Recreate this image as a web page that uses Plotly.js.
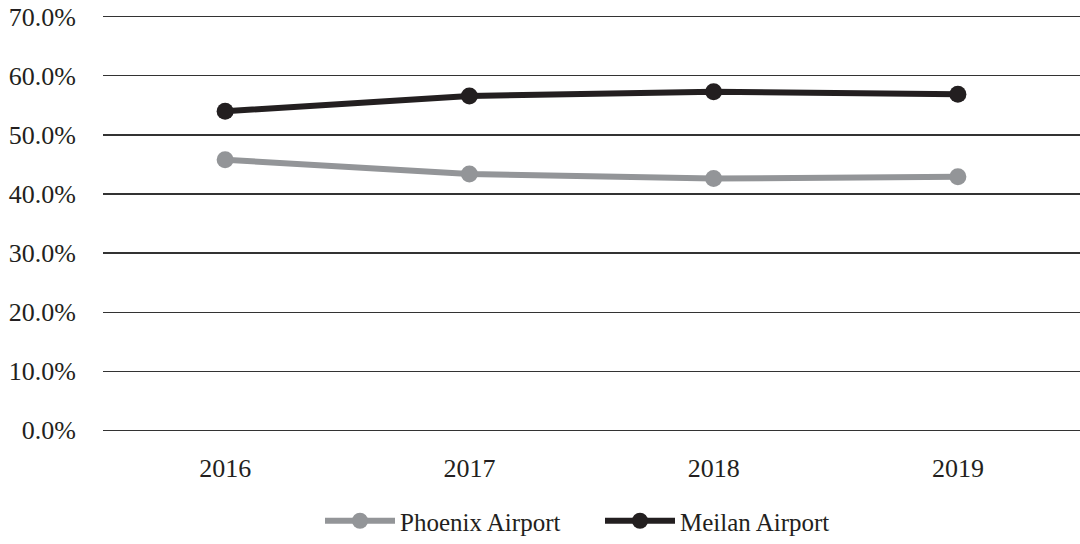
<!DOCTYPE html>
<html>
<head>
<meta charset="utf-8">
<script src="https://cdn.plot.ly/plotly-3.0.1.min.js"></script>
<style>html,body{margin:0;padding:0;background:#fff;}#chart{width:1080px;height:544px;}</style>
</head>
<body>
<div id="chart"></div>
<script>
const years = ['2016', '2017', '2018', '2019'];
const phoenix = [0.458, 0.434, 0.426, 0.429];
const meilan = [0.540, 0.566, 0.573, 0.569];
const yTicks = [0, 0.1, 0.2, 0.3, 0.4, 0.5, 0.6, 0.7];

const tickFont = {family: 'Liberation Serif', size: 26, color: '#231f20'};
const legendFont = {family: 'Liberation Serif', size: 25, color: '#231f20'};

const traces = [
  {x: years, y: phoenix, name: 'Phoenix Airport', type: 'scatter', mode: 'lines+markers',
   line: {color: '#939598', width: 6}, marker: {color: '#939598', size: 17}},
  {x: years, y: meilan, name: 'Meilan Airport', type: 'scatter', mode: 'lines+markers',
   line: {color: '#231f20', width: 6}, marker: {color: '#231f20', size: 17}}
];

const layout = {
  width: 1080, height: 544,
  margin: {l: 103, r: 0, t: 15, b: 112, autoexpand: false},
  paper_bgcolor: '#fff', plot_bgcolor: '#fff',
  font: tickFont,
  showlegend: true,
  legend: {orientation: 'h', x: 320 / 1080, xanchor: 'left', xref: 'container',
           y: 0, yanchor: 'bottom', yref: 'container', font: legendFont,
           itemwidth: 70, entrywidth: 195, entrywidthmode: 'pixels'},
  xaxis: {type: 'category', range: [-0.5, 3.5], showgrid: false, zeroline: false, showline: false,
          ticks: '', ticklabelstandoff: 18, tickfont: tickFont, automargin: false},
  yaxis: {range: [-0.003, 0.703], tickvals: yTicks, tickformat: '.1%', showgrid: true,
          gridcolor: '#333333', gridwidth: 1.2, zeroline: false, showline: false, ticks: '',
          ticklabelstandoff: 26, tickfont: tickFont, automargin: false}
};

Plotly.newPlot('chart', traces, layout, {displayModeBar: false, staticPlot: true});
</script>
</body>
</html>
